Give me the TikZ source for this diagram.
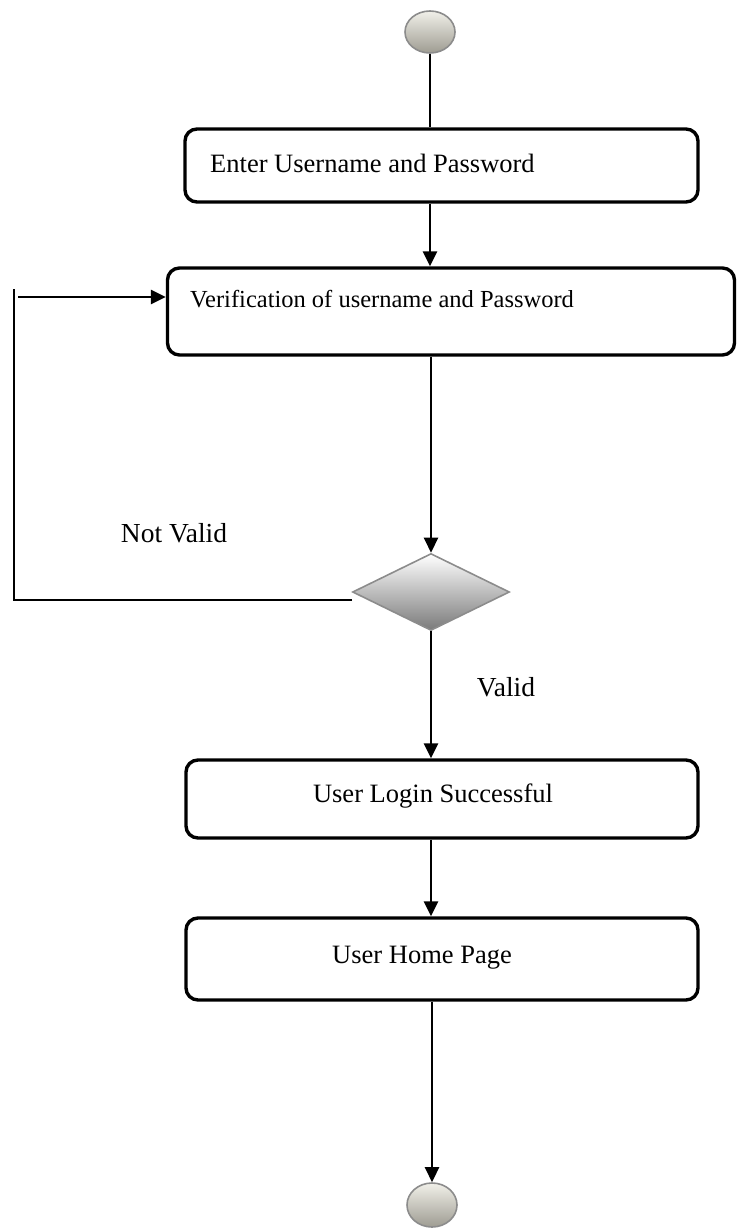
\documentclass[tikz,border=0pt]{standalone}
\usepackage{fontspec}
\setmainfont{Liberation Serif}
\usetikzlibrary{arrows.meta,shapes.geometric,calc}
\definecolor{termtop}{HTML}{F1F0E9}
\definecolor{termbot}{HTML}{9E9C92}
\definecolor{edgegray}{HTML}{8C8C8C}
\begin{document}
\begin{tikzpicture}[x=1pt,y=-1pt,
  actbox/.style={draw=black,line width=3.4pt,rounded corners=12pt,fill=white},
  lbl/.style={font=\fontsize{26.5}{30}\selectfont,inner sep=0pt},
  conn/.style={line width=2.5pt,draw=black},
  arr/.style={conn,-{Triangle[length=15pt,width=14pt]}},
  term/.style={ellipse,draw=edgegray,line width=1.6pt,top color=termtop,bottom color=termbot,inner sep=0pt},
  decision/.style={diamond,draw=edgegray,line width=1.6pt,top color=white,bottom color=black!52,inner sep=0pt,aspect=2}
]
\useasboundingbox (0,0) rectangle (736,1228);
% start
\node[term,minimum width=50pt,minimum height=42pt] (start) at (430,32) {};
% boxes
\node[actbox,minimum width=513pt,minimum height=73pt] (b1) at (441.5,165.5) {};
\node[lbl,anchor=west] (t1) at (210,163) {Enter Username and Password};
\node[actbox,minimum width=567pt,minimum height=87pt] (b2) at (451,311.5) {};
\node[lbl,anchor=west,font=\fontsize{24.5}{28}\selectfont] (t2) at (190,299) {Verification of username and Password};
\node[decision,minimum width=157pt,minimum height=77pt] (dec) at (431,592) {};
\node[actbox,minimum width=512pt,minimum height=78pt] (b3) at (442,799) {};
\node[lbl] (t3) at (433,796) {User Login Successful};
\node[actbox,minimum width=512pt,minimum height=82pt] (b4) at (442,959) {};
\node[lbl] (t4) at (422,958) {User Home Page};
\node[term,minimum width=50pt,minimum height=44pt] (stop) at (432,1205) {};
% labels
\node[lbl,font=\fontsize{27.5}{31}\selectfont] (nv) at (174,533) {Not Valid};
\node[lbl,font=\fontsize{27.5}{31}\selectfont] (v) at (506,687) {Valid};
% connectors
\draw[conn] (start.south) -- (start.south |- b1.north);
\draw[arr] (b1.south -| start) -- (b2.north -| start);
\draw[arr] (b2.south -| dec) -- (dec.north);
\coordinate (l1) at (352,600);
\coordinate (l2) at (14,600);
\coordinate (l3) at (14,289);
\coordinate (l4) at (18,297);
\draw[conn] (l1) -- (l2) -- (l3);
\draw[arr] (l4) -- (l4 -| b2.west);
\draw[arr] (dec.south) -- (b3.north -| dec);
\draw[arr] (b3.south -| dec) -- (b4.north -| dec);
\draw[arr] (b4.south -| stop) -- (stop.north);
\end{tikzpicture}
\end{document}
